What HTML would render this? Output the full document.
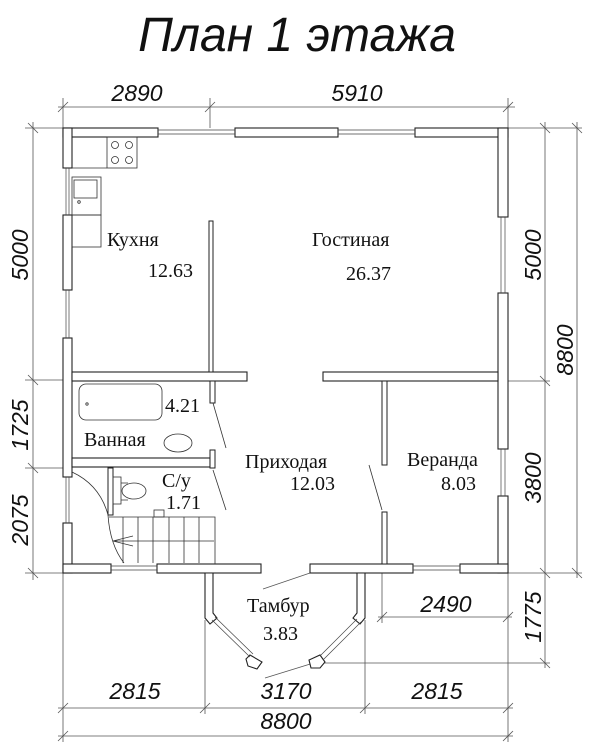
<!DOCTYPE html>
<html><head><meta charset="utf-8"><style>
html,body{margin:0;padding:0;background:#fff}
svg{display:block}
.s{font-family:"Liberation Serif",serif;font-size:20px;fill:#111}
.d{font-family:"Liberation Sans",sans-serif;font-style:italic;font-size:23px;fill:#111}
</style></head><body>
<svg width="600" height="750" viewBox="0 0 600 750" xmlns="http://www.w3.org/2000/svg">
<text x="297" y="51" text-anchor="middle" font-family="Liberation Sans,sans-serif" font-style="italic" font-size="48" fill="#111">План 1 этажа</text>

<g stroke="#555" stroke-width="0.8" fill="none">
<line x1="58" y1="107" x2="515" y2="107"/>
<line x1="63" y1="98" x2="63" y2="128"/><line x1="210" y1="98" x2="210" y2="128"/><line x1="508" y1="98" x2="508" y2="128"/>
<line x1="58" y1="112" x2="68" y2="102"/><line x1="205" y1="112" x2="215" y2="102"/><line x1="503" y1="112" x2="513" y2="102"/>
<line x1="33" y1="122" x2="33" y2="580"/>
<line x1="25" y1="128" x2="63" y2="128"/><line x1="25" y1="380" x2="63" y2="380"/><line x1="25" y1="468" x2="63" y2="468"/><line x1="25" y1="573" x2="63" y2="573"/>
<line x1="28" y1="123" x2="38" y2="133"/><line x1="28" y1="375" x2="38" y2="385"/><line x1="28" y1="463" x2="38" y2="473"/><line x1="28" y1="568" x2="38" y2="578"/>
<line x1="545" y1="122" x2="545" y2="668"/><line x1="577" y1="122" x2="577" y2="578"/>
<line x1="508" y1="128" x2="582" y2="128"/><line x1="508" y1="381" x2="550" y2="381"/><line x1="508" y1="573" x2="582" y2="573"/>
<line x1="540" y1="123" x2="550" y2="133"/><line x1="572" y1="123" x2="582" y2="133"/>
<line x1="540" y1="376" x2="550" y2="386"/><line x1="540" y1="568" x2="550" y2="578"/><line x1="572" y1="568" x2="582" y2="578"/>
<line x1="540" y1="658" x2="550" y2="668"/>
<line x1="320" y1="663" x2="550" y2="663"/>
<line x1="382" y1="560" x2="382" y2="623"/>
<line x1="378" y1="617" x2="512" y2="617"/>
<line x1="377" y1="622" x2="387" y2="612"/><line x1="503" y1="622" x2="513" y2="612"/>
<line x1="63" y1="573" x2="63" y2="742"/><line x1="508" y1="573" x2="508" y2="742"/>
<line x1="205" y1="620" x2="205" y2="714"/><line x1="365" y1="620" x2="365" y2="714"/>
<line x1="58" y1="708" x2="513" y2="708"/>
<line x1="58" y1="713" x2="68" y2="703"/><line x1="200" y1="713" x2="210" y2="703"/><line x1="360" y1="713" x2="370" y2="703"/><line x1="503" y1="713" x2="513" y2="703"/>
<line x1="58" y1="736" x2="513" y2="736"/>
<line x1="58" y1="741" x2="68" y2="731"/><line x1="503" y1="741" x2="513" y2="731"/>
<line x1="263" y1="589" x2="310" y2="573"/><line x1="265" y1="678" x2="320" y2="661"/>
</g>

<text class="d" x="137" y="101" text-anchor="middle">2890</text>
<text class="d" x="357" y="101" text-anchor="middle">5910</text>
<text class="d" transform="translate(28,255) rotate(-90)" text-anchor="middle">5000</text>
<text class="d" transform="translate(28,425) rotate(-90)" text-anchor="middle">1725</text>
<text class="d" transform="translate(28,520) rotate(-90)" text-anchor="middle">2075</text>
<text class="d" transform="translate(541,255) rotate(-90)" text-anchor="middle">5000</text>
<text class="d" transform="translate(573,350) rotate(-90)" text-anchor="middle">8800</text>
<text class="d" transform="translate(541,478) rotate(-90)" text-anchor="middle">3800</text>
<text class="d" transform="translate(541,617) rotate(-90)" text-anchor="middle">1775</text>
<text class="d" x="446" y="612" text-anchor="middle">2490</text>
<text class="d" x="135" y="699" text-anchor="middle">2815</text>
<text class="d" x="286" y="699" text-anchor="middle">3170</text>
<text class="d" x="437" y="699" text-anchor="middle">2815</text>
<text class="d" x="286" y="729" text-anchor="middle">8800</text>

<g stroke="#222" stroke-width="1.1" fill="#fff">
<rect x="63" y="128" width="95" height="9"/><rect x="235" y="128" width="103" height="9"/><rect x="415" y="128" width="93" height="9"/>
<rect x="63" y="128" width="9" height="40"/><rect x="63" y="215" width="9" height="75"/><rect x="63" y="338" width="9" height="139"/><rect x="63" y="523" width="9" height="50"/>
<rect x="498" y="128" width="10" height="89"/><rect x="498" y="293" width="10" height="156"/><rect x="498" y="496" width="10" height="77"/>
<rect x="63" y="564" width="48" height="9"/><rect x="157" y="564" width="104" height="9"/><rect x="310" y="564" width="103" height="9"/><rect x="460" y="564" width="48" height="9"/>
<rect x="72" y="372" width="175" height="9"/><rect x="323" y="372" width="175" height="9"/>
<rect x="72" y="458" width="138" height="9"/>
<path d="M205 573 H213 V613 L217 618 L210 624 L205 618 Z"/>
<path d="M357 573 H365 V618 L360 624 L353 618 L357 613 Z"/>
<path d="M250 655 L262 662 L257 669 L248 666 L246 659 Z"/>
<path d="M320 655 L325 662 L320 668 L311 668 L309 660 Z"/>
</g>
<g stroke="#444" stroke-width="0.7" fill="none">
<path d="M158 130 H235 M158 134 H235 M338 130 H415 M338 134 H415"/>
<path d="M66 168 V215 M69 168 V215 M66 290 V338 M69 290 V338 M66 477 V523 M69 477 V523"/>
<path d="M501 217 V293 M505 217 V293 M501 449 V496 M505 449 V496"/>
<path d="M111 566 H157 M111 570 H157 M413 566 H460 M413 570 H460"/>
<path d="M212 620 L250 657 M215 617 L253 654 M357 619 L320 656 M361 622 L323 660"/>
</g>
<g stroke="#222" stroke-width="1" fill="#fff">
<rect x="209" y="221" width="4" height="151"/>
<rect x="382" y="381" width="5" height="84"/><rect x="382" y="512" width="5" height="52"/>
<rect x="210" y="381" width="5" height="22"/><rect x="210" y="450" width="5" height="18"/>
<rect x="108" y="468" width="5" height="47"/>
</g>
<g stroke="#333" stroke-width="0.8" fill="none">
<line x1="369" y1="465" x2="382" y2="510"/>
<line x1="213" y1="403" x2="226" y2="448"/>
<line x1="213" y1="470" x2="226" y2="510"/>
<rect x="107" y="137" width="30" height="31"/>
<circle cx="115" cy="145" r="3.5"/><circle cx="129" cy="145" r="3.5"/><circle cx="115" cy="160" r="3.5"/><circle cx="129" cy="160" r="3.5"/>
<path d="M72 168 H107"/>
<rect x="72" y="177" width="29" height="38"/><rect x="74" y="180" width="23" height="18"/>
<circle cx="79" cy="202" r="1.3"/>
<rect x="72" y="215" width="29" height="32"/>
<rect x="79" y="384" width="83" height="36" rx="7"/>
<circle cx="87" cy="404" r="1.2"/>
<ellipse cx="178" cy="443" rx="14" ry="9"/>
<rect x="113" y="477" width="8" height="27"/>
<ellipse cx="134" cy="491" rx="12" ry="8"/>
<path d="M121 483 H128 M121 500 H128"/>
<path d="M109 517 H215 V564"/>
<rect x="154" y="510" width="10" height="7"/>
<path d="M123 517 V563 M138 517 V563 M153 517 V563 M169 517 V563 M184 517 V563 M199 517 V563"/>
<path d="M113 541 H214 M113 541 L133 536 M113 541 L133 546"/>
<path d="M72 472 Q100 485 108 515 Q110 545 124 563"/>
</g>

<text class="s" x="107" y="246">Кухня</text>
<text class="s" x="148" y="277">12.63</text>
<text class="s" x="312" y="246">Гостиная</text>
<text class="s" x="346" y="280">26.37</text>
<text class="s" x="165" y="412">4.21</text>
<text class="s" x="84" y="446">Ванная</text>
<text class="s" x="162" y="487">С/у</text>
<text class="s" x="166" y="509">1.71</text>
<text class="s" x="245" y="468">Приходая</text>
<text class="s" x="290" y="490">12.03</text>
<text class="s" x="407" y="466">Веранда</text>
<text class="s" x="441" y="490">8.03</text>
<text class="s" x="247" y="612">Тамбур</text>
<text class="s" x="263" y="640">3.83</text>
</svg>
</body></html>
